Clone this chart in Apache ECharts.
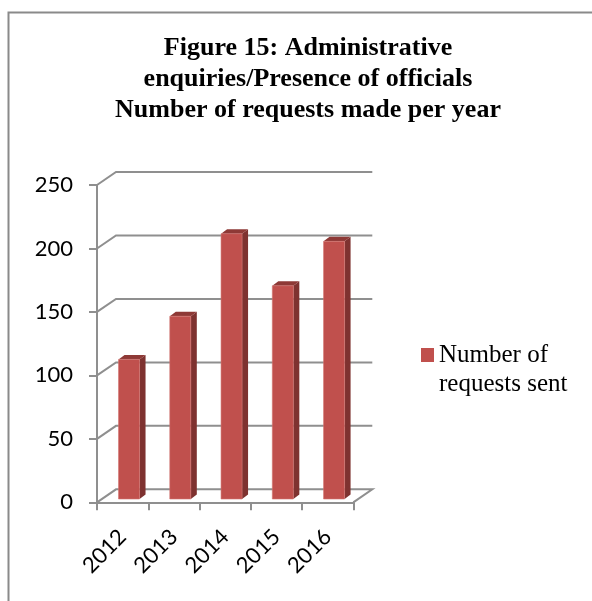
<!DOCTYPE html>
<html>
<head>
<meta charset="utf-8">
<script src="https://cdn.jsdelivr.net/npm/echarts@6/dist/echarts.min.js"></script>
<style>
  html, body { margin: 0; padding: 0; background: #fff; }
  #chart { width: 592px; height: 601px; }
</style>
</head>
<body>
<div id="chart"></div>
<script>
// ---- data ----
const years = ['2012', '2013', '2014', '2015', '2016'];
const requests = [110, 144, 209, 168, 203];
const yTicks = [0, 50, 100, 150, 200, 250];
const titleLines = [
  'Figure 15: Administrative',
  'enquiries/Presence of officials',
  'Number of requests made per year'
];
const seriesName = 'Number of requests sent';

// ---- styling constants ----
const GRID_COLOR = '#8f8f8f';
const FRONT = '#C0504D';
const SIDE = '#7E3230';
const TOP = '#8E3936';
const DEPTH_X = 19, DEPTH_Y = -13;   // back wall offset
const BAR_DX = 6, BAR_DY = -4.5;     // bar depth
const LEGEND_LH = 29.4;

const chart = echarts.init(document.getElementById('chart'), null, { renderer: 'canvas' });

function wallRender(params, api) {
  const v = api.value(1);
  const cs = params.coordSys;
  const y = api.coord([0, v])[1];
  const l = cs.x, r = cs.x + cs.width;
  const pts = [[l, y], [l + DEPTH_X, y + DEPTH_Y], [r + DEPTH_X, y + DEPTH_Y]];
  if (v === 0) pts.push([r, y]);
  return {
    type: 'polyline',
    shape: { points: pts },
    style: { stroke: GRID_COLOR, lineWidth: 2, fill: null }
  };
}

function barRender(params, api) {
  const i = api.value(0);
  const v = api.value(1);
  const base = api.coord([i, 0]);
  const top = api.coord([i, v]);
  const catW = api.size([1, 0])[0];
  const w = catW * 0.41;
  const ox = catW * 0.125;
  const oy = -3.3;
  const x0 = base[0] + ox - w / 2, x1 = x0 + w;
  const yb = base[1] + oy, yt = top[1] + oy;
  return {
    type: 'group',
    children: [
      { type: 'polygon', shape: { points: [[x1, yb], [x1, yt], [x1 + BAR_DX, yt + BAR_DY], [x1 + BAR_DX, yb + BAR_DY]] }, style: { fill: SIDE } },
      { type: 'polygon', shape: { points: [[x0, yt], [x1, yt], [x1 + BAR_DX, yt + BAR_DY], [x0 + BAR_DX, yt + BAR_DY]] }, style: { fill: TOP } },
      { type: 'rect', shape: { x: x0, y: yt, width: w, height: yb - yt }, style: { fill: FRONT, stroke: '#D27471', lineWidth: 0.6 } }
    ]
  };
}

// legend icon: a 13x14 square placed beside the first of two text lines
const sqTop = LEGEND_LH / 2 - 7;
const iconH = LEGEND_LH * 2;
const legendIcon = 'path://M0 0 L0.01 0 Z M0 ' + sqTop + ' L13 ' + sqTop + ' L13 ' + (sqTop + 14) +
  ' L0 ' + (sqTop + 14) + ' Z M0 ' + iconH + ' L0.01 ' + iconH + ' Z';

const option = {
  backgroundColor: '#ffffff',
  animation: false,
  title: {
    text: titleLines.join('\n'),
    left: 308,
    top: 33,
    textAlign: 'center',
    padding: 0,
    textStyle: {
      fontFamily: 'Liberation Serif',
      fontWeight: 'bold',
      fontSize: 26,
      lineHeight: 31,
      color: '#000'
    }
  },
  legend: {
    data: [seriesName],
    left: 421,
    top: 355 - LEGEND_LH / 2,
    padding: 0,
    orient: 'vertical',
    icon: legendIcon,
    itemWidth: 13,
    itemHeight: iconH,
    selectedMode: false,
    formatter: function (name) { return name.replace(' requests', '\nrequests'); },
    textStyle: {
      fontFamily: 'Liberation Serif',
      fontSize: 25,
      lineHeight: LEGEND_LH,
      color: '#000'
    }
  },
  graphic: [{
    type: 'rect',
    shape: { x: 8.5, y: 12.5, width: 700, height: 700 },
    style: { fill: null, stroke: '#8a8a8a', lineWidth: 2 },
    silent: true,
    z: -1
  }],
  grid: {
    left: 97,
    top: 185,
    width: 256.3,
    height: 317.3,
    containLabel: false,
    outerBoundsMode: 'none'
  },
  xAxis: {
    type: 'category',
    data: years,
    boundaryGap: true,
    axisLine: { show: true, lineStyle: { color: GRID_COLOR, width: 2 } },
    axisTick: { show: true, length: 8, alignWithLabel: false, interval: 0, lineStyle: { color: GRID_COLOR, width: 2 } },
    axisLabel: {
      interval: 0,
      rotate: 45,
      margin: 31,
      fontFamily: 'Lato',
      fontSize: 22,
      color: '#000'
    },
    splitLine: { show: false }
  },
  yAxis: {
    type: 'value',
    min: 0,
    max: 250,
    interval: 50,
    axisLine: { show: true, lineStyle: { color: GRID_COLOR, width: 2 } },
    axisTick: { show: true, length: 8, lineStyle: { color: GRID_COLOR, width: 2 } },
    axisLabel: {
      margin: 24,
      fontFamily: 'Lato',
      fontSize: 22,
      color: '#000'
    },
    splitLine: { show: false }
  },
  series: [
    {
      name: 'wall',
      type: 'custom',
      renderItem: wallRender,
      data: yTicks.map(v => [0, v]),
      z: 1,
      silent: true,
      clip: false
    },
    {
      name: seriesName,
      type: 'custom',
      renderItem: barRender,
      data: requests.map((v, i) => [i, v]),
      itemStyle: { color: FRONT },
      z: 3,
      clip: false
    }
  ]
};

chart.setOption(option);
</script>
</body>
</html>
